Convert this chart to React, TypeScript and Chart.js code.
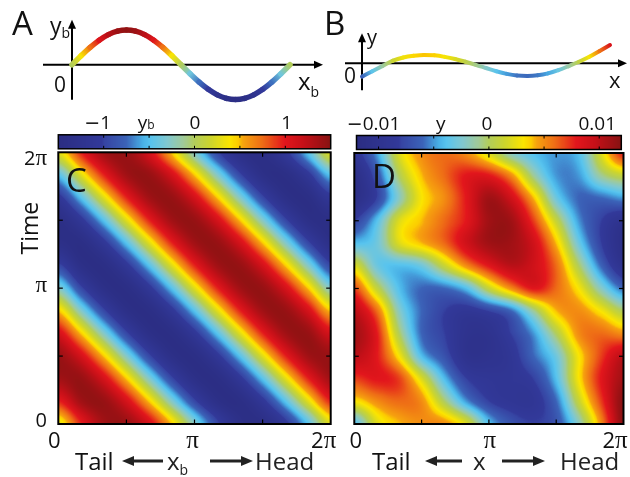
import React, { useEffect, useRef } from "react";
import { Chart, registerables } from "chart.js";

Chart.register(...registerables);

const PI = Math.PI;

// ---------------- data ----------------
// curve sample positions (units of π)
const CURVE_X = [0, 0.0833, 0.1667, 0.25, 0.3333, 0.4167, 0.5, 0.5833, 0.6667, 0.75, 0.8333, 0.9167, 1,
  1.0833, 1.1667, 1.25, 1.3333, 1.4167, 1.5, 1.5833, 1.6667, 1.75, 1.8333, 1.9167, 2];
// panel A : body-frame shape y_b(x_b)
const A_YB = [0, 0.375, 0.725, 1.025, 1.256, 1.401, 1.45, 1.401, 1.256, 1.025, 0.725, 0.375, 0,
  -0.375, -0.725, -1.025, -1.256, -1.401, -1.45, -1.401, -1.256, -1.025, -0.725, -0.375, 0];
// panel B : lab-frame shape y(x)
const B_Y = [-0.0062, -0.0037, -0.0012, 0.0012, 0.0027, 0.0035, 0.0039, 0.0037, 0.003, 0.002, 0.0007, -0.0007,
  -0.0022, -0.0037, -0.0049, -0.0057, -0.0059, -0.0056, -0.0047, -0.0032, -0.0013, 0.0007, 0.003, 0.0057, 0.0085];

// heat-map grid nodes (units of π)
const GRID_X = [0, 0.1667, 0.3333, 0.5, 0.6667, 0.8333, 1, 1.1667, 1.3333, 1.5, 1.6667, 1.8333, 2];
const GRID_T = [0, 0.1667, 0.3333, 0.5, 0.6667, 0.8333, 1, 1.1667, 1.3333, 1.5, 1.6667, 1.8333, 2];

// panel C : y_b(x_b, t), rows = time from 0 (bottom) to 2π (top)
const C_YB = [
  [0.27, 0.95, 1.37, 1.42, 1.1, 0.48, -0.27, -0.95, -1.37, -1.42, -1.1, -0.48, 0.27],
  [0.95, 1.37, 1.42, 1.1, 0.48, -0.27, -0.95, -1.37, -1.42, -1.1, -0.48, 0.27, 0.95],
  [1.37, 1.42, 1.1, 0.48, -0.27, -0.95, -1.37, -1.42, -1.1, -0.48, 0.27, 0.95, 1.37],
  [1.42, 1.1, 0.48, -0.27, -0.95, -1.37, -1.42, -1.1, -0.48, 0.27, 0.95, 1.37, 1.42],
  [1.1, 0.48, -0.27, -0.95, -1.37, -1.42, -1.1, -0.48, 0.27, 0.95, 1.37, 1.42, 1.1],
  [0.48, -0.27, -0.95, -1.37, -1.42, -1.1, -0.48, 0.27, 0.95, 1.37, 1.42, 1.1, 0.48],
  [-0.27, -0.95, -1.37, -1.42, -1.1, -0.48, 0.27, 0.95, 1.37, 1.42, 1.1, 0.48, -0.27],
  [-0.95, -1.37, -1.42, -1.1, -0.48, 0.27, 0.95, 1.37, 1.42, 1.1, 0.48, -0.27, -0.95],
  [-1.37, -1.42, -1.1, -0.48, 0.27, 0.95, 1.37, 1.42, 1.1, 0.48, -0.27, -0.95, -1.37],
  [-1.42, -1.1, -0.48, 0.27, 0.95, 1.37, 1.42, 1.1, 0.48, -0.27, -0.95, -1.37, -1.42],
  [-1.1, -0.48, 0.27, 0.95, 1.37, 1.42, 1.1, 0.48, -0.27, -0.95, -1.37, -1.42, -1.1],
  [-0.48, 0.27, 0.95, 1.37, 1.42, 1.1, 0.48, -0.27, -0.95, -1.37, -1.42, -1.1, -0.48],
  [0.27, 0.95, 1.37, 1.42, 1.1, 0.48, -0.27, -0.95, -1.37, -1.42, -1.1, -0.48, 0.27],
];

// panel D : y(x, t), rows = time from 0 (bottom) to 2π (top)
const D_Y = [
  [-0.004, 0.002, 0.004, 0.005, 0.005, 0.002, -0.004, -0.007, -0.008, -0.007, -0.002, 0.005, 0.012],
  [0.003, 0.005, 0.006, 0.005, 0.0, -0.005, -0.008, -0.009, -0.009, -0.006, 0.001, 0.007, 0.012],
  [0.007, 0.008, 0.007, 0.002, -0.004, -0.008, -0.009, -0.009, -0.008, -0.004, 0.003, 0.008, 0.011],
  [0.01, 0.008, 0.003, -0.004, -0.007, -0.01, -0.01, -0.009, -0.006, -0.003, 0.003, 0.007, 0.01],
  [0.011, 0.008, 0.0, -0.006, -0.008, -0.01, -0.01, -0.008, -0.005, 0.0, 0.005, 0.006, 0.005],
  [0.01, 0.006, -0.002, -0.006, -0.008, -0.009, -0.008, -0.006, -0.001, 0.004, 0.005, 0.003, 0.0],
  [0.007, 0.001, -0.004, -0.006, -0.006, -0.004, 0.001, 0.005, 0.008, 0.006, 0.003, -0.002, -0.006],
  [0.002, -0.003, -0.004, -0.003, 0.001, 0.005, 0.008, 0.01, 0.009, 0.006, 0.0, -0.006, -0.01],
  [-0.004, -0.003, 0.002, 0.004, 0.006, 0.009, 0.011, 0.011, 0.009, 0.004, -0.003, -0.008, -0.011],
  [-0.008, -0.004, 0.002, 0.004, 0.006, 0.008, 0.011, 0.011, 0.007, 0.001, -0.005, -0.008, -0.01],
  [-0.011, -0.008, -0.002, 0.003, 0.005, 0.008, 0.011, 0.009, 0.004, -0.003, -0.006, -0.006, -0.005],
  [-0.011, -0.007, 0.0, 0.004, 0.006, 0.008, 0.008, 0.005, -0.001, -0.005, -0.005, -0.001, 0.001],
  [-0.009, -0.005, 0.002, 0.005, 0.006, 0.005, 0.002, -0.002, -0.004, -0.005, -0.004, 0.002, 0.008],
];

// colour bars
const CB_C_LIMITS = [-1.5, 1.5];
const CB_C_TICKS = [-1, -0.5, 0, 0.5, 1];
const CB_C_LABEL_AT = [-1, 0, 1];
const CB_C_LABELS = ["−1", "0", "1"];
const CB_D_LIMITS = [-0.012, 0.012];
const CB_D_TICKS = [-0.01, -0.005, 0, 0.005, 0.01];
const CB_D_LABEL_AT = [-0.01, 0, 0.01];
const CB_D_LABELS = ["−0.01", "0", "0.01"];

// heat-map axis ticks (units of π)
const HM_MINOR = [0.5, 1, 1.5];
const HM_LABEL_AT = [0, 1, 2];
const HM_LABELS = ["0", "π", "2π"];

// colormap
const CMAP_POS = [0, 0.16, 0.17, 0.25, 0.31, 0.34, 0.4, 0.46, 0.5, 0.56, 0.63, 0.66, 0.68, 0.75, 0.83, 0.9, 1];
const CMAP_HEX = ["#2b2d82", "#32399a", "#3644a3", "#3b63b8", "#48b0e6", "#58c4ee", "#80c8d0", "#a0ca98",
  "#b2cd5a", "#cdd52c", "#fbe500", "#fccc00", "#f6a20e", "#ee6c16", "#e2161c", "#c51018", "#871212"];

// ---------------- helpers ----------------
const FONT_SANS = '"Open Sans", "DejaVu Sans", sans-serif';
const FONT_SERIF = '"Liberation Serif", "DejaVu Serif", serif';
const sans = (px: number) => `${px}px ${FONT_SANS}`;
const serif = (px: number) => `${px}px ${FONT_SERIF}`;
const INK = "#111";

const LUT_N = 512;
const LUT = (() => {
  const rgb = CMAP_HEX.map((h) => [parseInt(h.slice(1, 3), 16), parseInt(h.slice(3, 5), 16), parseInt(h.slice(5, 7), 16)]);
  const out = new Uint8ClampedArray(LUT_N * 3);
  for (let k = 0; k < LUT_N; k++) {
    const f = k / (LUT_N - 1);
    let s = 0;
    while (s < CMAP_POS.length - 2 && f > CMAP_POS[s + 1]) s++;
    const u = (f - CMAP_POS[s]) / (CMAP_POS[s + 1] - CMAP_POS[s]);
    for (let c = 0; c < 3; c++) out[k * 3 + c] = rgb[s][c] + (rgb[s + 1][c] - rgb[s][c]) * u;
  }
  return out;
})();
function colorIdx(f: number) {
  const ff = f < 0 ? 0 : f > 1 ? 1 : f;
  return Math.round(ff * (LUT_N - 1)) * 3;
}
function cssColor(f: number) {
  const k = colorIdx(f);
  return `rgb(${LUT[k]},${LUT[k + 1]},${LUT[k + 2]})`;
}

function cr(p0: number, p1: number, p2: number, p3: number, t: number) {
  return p1 + 0.5 * t * (p2 - p0 + t * (2 * p0 - 5 * p1 + 4 * p2 - p3 + t * (3 * (p1 - p2) + p3 - p0)));
}
function bicubic(g: number[][], gx: number, gy: number) {
  const ny = g.length, nx = g[0].length;
  let ix = Math.floor(gx), iy = Math.floor(gy);
  ix = Math.max(0, Math.min(nx - 2, ix));
  iy = Math.max(0, Math.min(ny - 2, iy));
  const fx = gx - ix, fy = gy - iy;
  const at = (j: number, i: number) => g[Math.min(ny - 1, Math.max(0, j))][Math.min(nx - 1, Math.max(0, i))];
  const r: number[] = [];
  for (let m = -1; m <= 2; m++) r.push(cr(at(iy + m, ix - 1), at(iy + m, ix), at(iy + m, ix + 1), at(iy + m, ix + 2), fx));
  return cr(r[0], r[1], r[2], r[3], fy);
}

type Run = { t: string; f: string; dy?: number };
function drawRuns(ctx: CanvasRenderingContext2D, runs: Run[], x: number, y: number, align = "left") {
  let total = 0;
  const ws = runs.map((r) => {
    ctx.font = r.f;
    const w = ctx.measureText(r.t).width;
    total += w;
    return w;
  });
  let cx = align === "left" ? x : align === "center" ? x - total / 2 : x - total;
  ctx.textAlign = "left";
  ctx.textBaseline = "alphabetic";
  runs.forEach((r, i) => {
    ctx.font = r.f;
    ctx.fillText(r.t, cx, y + (r.dy || 0));
    cx += ws[i];
  });
}
function labelRuns(txt: string, size: number): Run[] {
  const out: Run[] = [];
  for (const ch of txt) {
    if (ch === "π") out.push({ t: ch, f: serif(size + 3) });
    else if (ch === "−") out.push({ t: ch, f: `${size}px "DejaVu Sans", sans-serif` });
    else {
      const last = out[out.length - 1];
      if (last && last.f === sans(size)) last.t += ch;
      else out.push({ t: ch, f: sans(size) });
    }
  }
  return out;
}
function arrow(ctx: CanvasRenderingContext2D, x1: number, y1: number, x2: number, y2: number,
  lw: number, hl: number, hw: number, color: string) {
  const ang = Math.atan2(y2 - y1, x2 - x1);
  const c = Math.cos(ang), s = Math.sin(ang);
  const bx = x2 - hl * c, by = y2 - hl * s;
  ctx.strokeStyle = color;
  ctx.lineWidth = lw;
  ctx.lineCap = "butt";
  ctx.beginPath();
  ctx.moveTo(x1, y1);
  ctx.lineTo(bx + c, by + s);
  ctx.stroke();
  ctx.fillStyle = color;
  ctx.beginPath();
  ctx.moveTo(x2, y2);
  ctx.lineTo(bx - hw * s, by + hw * c);
  ctx.lineTo(bx + hw * s, by - hw * c);
  ctx.closePath();
  ctx.fill();
}
function seg(ctx: CanvasRenderingContext2D, x1: number, y1: number, x2: number, y2: number) {
  ctx.beginPath();
  ctx.moveTo(x1, y1);
  ctx.lineTo(x2, y2);
  ctx.stroke();
}

// ---------------- curve charts (A, B) ----------------
function makeCurve(canvas: HTMLCanvasElement, vals: number[], yLim: number, cLim: number[], lineW: number,
  pad: any, plugin: any) {
  const norm = (v: number) => (v - cLim[0]) / (cLim[1] - cLim[0]);
  const c2d = canvas.getContext("2d") as CanvasRenderingContext2D;
  return new Chart(canvas, {
    type: "scatter",
    data: {
      datasets: [{
        data: CURVE_X.map((x, i) => ({ x: x * PI, y: vals[i] })),
        showLine: true,
        pointRadius: 0,
        pointHoverRadius: 0,
        borderWidth: lineW,
        borderColor: "#000",
        cubicInterpolationMode: "monotone",
        borderCapStyle: "round",
        borderJoinStyle: "round",
        clip: false,
        segment: {
          borderColor: (sc: any) => {
            const g = c2d.createLinearGradient(sc.p0.x, sc.p0.y, sc.p1.x, sc.p1.y);
            g.addColorStop(0, cssColor(norm(vals[sc.p0DataIndex])));
            g.addColorStop(1, cssColor(norm(vals[sc.p1DataIndex])));
            return g;
          },
        },
      } as any],
    },
    options: {
      animation: false,
      responsive: false,
      events: [],
      layout: { padding: pad },
      plugins: { legend: { display: false }, tooltip: { enabled: false } },
      scales: {
        x: { type: "linear", min: 0, max: 2 * PI, display: false },
        y: { type: "linear", min: -yLim, max: yLim, display: false },
      },
    } as any,
    plugins: [plugin],
  });
}

const decorA = {
  id: "decorA",
  beforeDatasetsDraw(chart: any) {
    const { ctx } = chart;
    const xs = chart.scales.x, ys = chart.scales.y;
    const x0 = xs.getPixelForValue(0), y0 = ys.getPixelForValue(0), xr = xs.getPixelForValue(2 * PI);
    ctx.save();
    arrow(ctx, x0 - 29, y0, xr + 33, y0, 2, 9, 4, "#000");
    arrow(ctx, x0, y0 + 35, x0, y0 - 45, 2, 9, 4, "#000");
    ctx.restore();
  },
  afterDraw(chart: any) {
    const { ctx } = chart;
    const xs = chart.scales.x, ys = chart.scales.y;
    const x0 = xs.getPixelForValue(0), y0 = ys.getPixelForValue(0), xr = xs.getPixelForValue(2 * PI);
    ctx.save();
    ctx.fillStyle = INK;
    drawRuns(ctx, [{ t: "A", f: sans(33) }], 12, 35);
    drawRuns(ctx, [{ t: "y", f: sans(23) }, { t: "b", f: sans(14), dy: 4.5 }], x0 - 22, y0 - 31);
    drawRuns(ctx, [{ t: "0", f: sans(21) }], x0 - 12, y0 + 27, "center");
    drawRuns(ctx, [{ t: "x", f: sans(24) }, { t: "b", f: sans(14), dy: 6.5 }], xr + 8, y0 + 25.5);
    ctx.restore();
  },
};

const decorB = {
  id: "decorB",
  beforeDatasetsDraw(chart: any) {
    const { ctx } = chart;
    const xs = chart.scales.x, ys = chart.scales.y;
    const x0 = xs.getPixelForValue(0), y0 = ys.getPixelForValue(0), xr = xs.getPixelForValue(2 * PI);
    ctx.save();
    arrow(ctx, x0 - 17, y0, xr + 17, y0, 2, 9, 4, "#000");
    arrow(ctx, x0, y0 + 27, x0, y0 - 30, 2, 9, 4, "#000");
    ctx.restore();
  },
  afterDraw(chart: any) {
    const { ctx } = chart;
    const xs = chart.scales.x, ys = chart.scales.y;
    const x0 = xs.getPixelForValue(0), y0 = ys.getPixelForValue(0), xr = xs.getPixelForValue(2 * PI);
    ctx.save();
    ctx.fillStyle = INK;
    drawRuns(ctx, [{ t: "B", f: sans(33) }], 4, 35);
    drawRuns(ctx, [{ t: "y", f: sans(20) }], x0 + 5, y0 - 19.3);
    drawRuns(ctx, [{ t: "0", f: sans(21) }], x0 - 12, y0 + 20, "center");
    drawRuns(ctx, [{ t: "x", f: sans(22) }], xr - 1, y0 + 25);
    ctx.restore();
  },
};

// ---------------- heat-map charts (C, D) ----------------
function heatPlugin(cfg: any) {
  const norm = (v: number) => (v - cfg.lim[0]) / (cfg.lim[1] - cfg.lim[0]);
  return {
    id: "heat",
    beforeDatasetsDraw(chart: any) {
      const { ctx, chartArea: a } = chart;
      const xs = chart.scales.x, ys = chart.scales.y;
      const L = Math.round(a.left), T = Math.round(a.top);
      const W = Math.round(a.right) - L, H = Math.round(a.bottom) - T;
      const off = document.createElement("canvas");
      off.width = W;
      off.height = H;
      const octx = off.getContext("2d") as CanvasRenderingContext2D;
      const img = octx.createImageData(W, H);
      const nx = GRID_X.length - 1, ny = GRID_T.length - 1;
      const gxs: number[] = [];
      for (let c = 0; c < W; c++) {
        const x = xs.getValueForPixel(L + c + 0.5) / PI;
        gxs.push(((x - GRID_X[0]) / (GRID_X[nx] - GRID_X[0])) * nx);
      }
      for (let r = 0; r < H; r++) {
        const t = ys.getValueForPixel(T + r + 0.5) / PI;
        const gy = ((t - GRID_T[0]) / (GRID_T[ny] - GRID_T[0])) * ny;
        for (let c = 0; c < W; c++) {
          const k = colorIdx(norm(bicubic(cfg.grid, gxs[c], gy)));
          const p = (r * W + c) * 4;
          img.data[p] = LUT[k];
          img.data[p + 1] = LUT[k + 1];
          img.data[p + 2] = LUT[k + 2];
          img.data[p + 3] = 255;
        }
      }
      octx.putImageData(img, 0, 0);
      ctx.drawImage(off, L, T);
    },
    afterDraw(chart: any) {
      const { ctx, chartArea: a } = chart;
      const xs = chart.scales.x, ys = chart.scales.y, cb = chart.scales.cb;
      ctx.save();
      // frame + ticks
      ctx.strokeStyle = "#000";
      ctx.lineWidth = 2;
      ctx.strokeRect(a.left, a.top, a.right - a.left, a.bottom - a.top);
      ctx.lineWidth = 1.2;
      HM_MINOR.forEach((v) => {
        const px = xs.getPixelForValue(v * PI), py = ys.getPixelForValue(v * PI);
        seg(ctx, px, a.top, px, a.top + 4.5);
        seg(ctx, px, a.bottom, px, a.bottom - 4.5);
        seg(ctx, a.left, py, a.left + 4.5, py);
        seg(ctx, a.right, py, a.right - 4.5, py);
      });
      // colour bar
      const cbT = a.top - 17.5, cbB = a.top - 3.5;
      const cbL = cb.getPixelForValue(cfg.lim[0]), cbR = cb.getPixelForValue(cfg.lim[1]);
      for (let px = Math.floor(cbL); px < Math.ceil(cbR); px++) {
        const v = cb.getValueForPixel(px + 0.5);
        ctx.fillStyle = cssColor(norm(v));
        const x1 = Math.max(px, cbL), x2 = Math.min(px + 1, cbR);
        ctx.fillRect(x1, cbT, x2 - x1, cbB - cbT);
      }
      ctx.strokeStyle = "#000";
      ctx.lineWidth = 1.5;
      ctx.strokeRect(cbL, cbT, cbR - cbL, cbB - cbT);
      ctx.lineWidth = 1;
      cfg.cbTicks.forEach((v: number) => {
        const px = cb.getPixelForValue(v);
        seg(ctx, px, cbT, px, cbT + 3);
        seg(ctx, px, cbB, px, cbB - 3);
      });
      ctx.fillStyle = INK;
      cfg.cbLabelAt.forEach((v: number, i: number) => {
        drawRuns(ctx, labelRuns(cfg.cbLabels[i], 19), cb.getPixelForValue(v) + cfg.cbLabelDx[i], cbT - 6, "center");
      });
      drawRuns(ctx, cfg.cbTitle, cb.getPixelForValue(cfg.cbTitleAt) + cfg.cbTitleDx, cbT - 6, "center");
      // panel letter
      drawRuns(ctx, [{ t: cfg.letter, f: sans(33) }], cfg.letterPos[0], cfg.letterPos[1]);
      // x tick labels
      HM_LABEL_AT.forEach((v, i) => {
        drawRuns(ctx, labelRuns(HM_LABELS[i], 22), xs.getPixelForValue(v * PI) + cfg.xLabelDx[i], a.bottom + 24, "center");
      });
      // y tick labels + title
      if (cfg.yLabels) {
        const dy = [3, 4, 13];
        HM_LABEL_AT.forEach((v, i) => {
          drawRuns(ctx, labelRuns(HM_LABELS[i], 20), 47, ys.getPixelForValue(v * PI) + dy[i], "right");
        });
        ctx.save();
        ctx.translate(38, (a.top + a.bottom) / 2 - 60);
        ctx.rotate(-PI / 2);
        drawRuns(ctx, [{ t: "Time", f: sans(23) }], 0, 0, "center");
        ctx.restore();
      }
      // bottom caption
      const bl = a.bottom + 45.5, ay = a.bottom + 37;
      const b = cfg.bottom;
      drawRuns(ctx, [{ t: "Tail", f: sans(24) }], b.tail, bl);
      arrow(ctx, b.a1[1], ay, b.a1[0], ay, 3, 12, 5, "#222");
      drawRuns(ctx, b.sym, b.symX, bl);
      arrow(ctx, b.a2[0], ay, b.a2[1], ay, 3, 12, 5, "#222");
      drawRuns(ctx, [{ t: "Head", f: sans(24) }], b.head, bl);
      ctx.restore();
    },
  };
}

function makeHeat(canvas: HTMLCanvasElement, cfg: any, pad: any) {
  const nodes: { x: number; y: number }[] = [];
  GRID_T.forEach((t) => GRID_X.forEach((x) => nodes.push({ x: x * PI, y: t * PI })));
  return new Chart(canvas, {
    type: "scatter",
    data: { datasets: [{ data: nodes, pointRadius: 0, pointHoverRadius: 0 }] },
    options: {
      animation: false,
      responsive: false,
      events: [],
      layout: { padding: pad },
      plugins: { legend: { display: false }, tooltip: { enabled: false } },
      scales: {
        x: { type: "linear", min: 0, max: 2 * PI, display: false },
        y: { type: "linear", min: 0, max: 2 * PI, display: false },
        cb: { type: "linear", axis: "x", min: cfg.cbScale[0], max: cfg.cbScale[1], display: false },
      },
    } as any,
    plugins: [heatPlugin(cfg)],
  });
}

export default function App() {
  const refA = useRef<HTMLCanvasElement>(null);
  const refB = useRef<HTMLCanvasElement>(null);
  const refC = useRef<HTMLCanvasElement>(null);
  const refD = useRef<HTMLCanvasElement>(null);

  useEffect(() => {
    const charts: Chart[] = [];
    charts.push(makeCurve(refA.current!, A_YB, 1.45, CB_C_LIMITS, 5.5,
      { left: 72, right: 50, top: 30, bottom: 15.5 }, decorA));
    charts.push(makeCurve(refB.current!, B_Y, 0.014, CB_D_LIMITS, 4,
      { left: 42, right: 20, top: 33.2, bottom: 21.6 }, decorB));
    charts.push(makeHeat(refC.current!, {
      grid: C_YB, lim: CB_C_LIMITS, cbScale: CB_C_LIMITS, cbTicks: CB_C_TICKS,
      cbLabelAt: CB_C_LABEL_AT, cbLabels: CB_C_LABELS, cbLabelDx: [-6, 0.5, 1.5],
      cbTitle: [{ t: "y", f: sans(19) }, { t: "b", f: sans(12) }], cbTitleAt: -0.5, cbTitleDx: -3,
      letter: "C", letterPos: [66, 80], yLabels: true, xLabelDx: [-4, -2, -7],
      bottom: {
        tail: 75, a1: [122, 163], symX: 167,
        sym: [{ t: "x", f: sans(24) }, { t: "b", f: sans(14), dy: 5.5 }],
        a2: [210, 253], head: 255,
      },
    }, { left: 58.3, right: 9.3, top: 40.3, bottom: 53 }));
    charts.push(makeHeat(refD.current!, {
      grid: D_Y, lim: CB_D_LIMITS, cbScale: [-0.0122, 0.0122], cbTicks: CB_D_TICKS,
      cbLabelAt: CB_D_LABEL_AT, cbLabels: CB_D_LABELS, cbLabelDx: [-5, -2, -2],
      cbTitle: [{ t: "y", f: sans(19) }], cbTitleAt: -0.005, cbTitleDx: 7,
      letter: "D", letterPos: [32, 76], yLabels: false, xLabelDx: [1.5, 1, -8.5],
      bottom: {
        tail: 32, a1: [85, 122], symX: 133,
        sym: [{ t: "x", f: sans(24) }],
        a2: [162, 205], head: 220,
      },
    }, { left: 14.3, right: 6.5, top: 41, bottom: 53 }));
    return () => charts.forEach((c) => c.destroy());
  }, []);

  const abs = (left: number, top: number) => ({ position: "absolute" as const, left, top });
  return (
    <div style={{ position: "fixed", left: 0, top: 0, width: 630, height: 477, background: "#fff", overflow: "hidden" }}>
      <canvas ref={refA} width={340} height={115} style={abs(0, 0)} />
      <canvas ref={refB} width={310} height={115} style={abs(320, 0)} />
      <canvas ref={refC} width={340} height={365} style={abs(0, 112)} />
      <canvas ref={refD} width={290} height={365} style={abs(340, 112)} />
    </div>
  );
}
